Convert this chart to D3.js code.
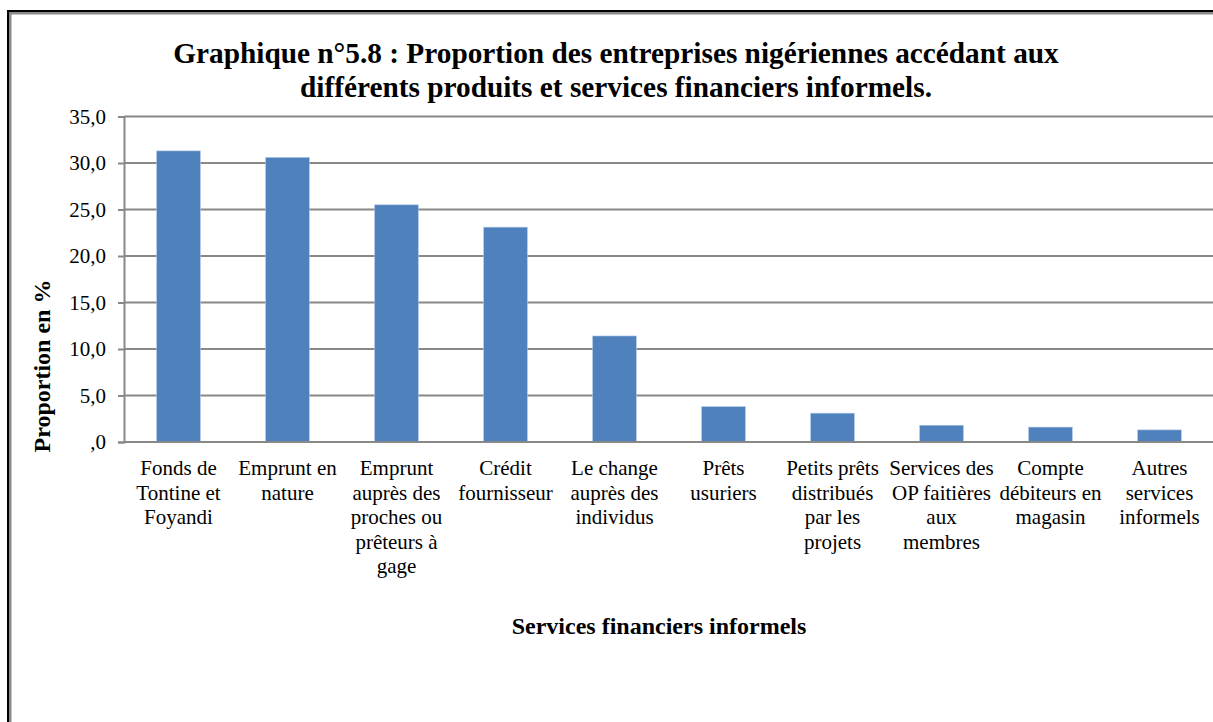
<!DOCTYPE html>
<html>
<head>
<meta charset="utf-8">
<script src="https://cdn.jsdelivr.net/npm/d3@7"></script>
<style>
  html, body { margin: 0; padding: 0; background: #fff; }
  svg { display: block; }
</style>
</head>
<body>
<div id="chart"></div>
<script>
// ---- Data ----
const titleLines = [
  "Graphique n°5.8 : Proportion des entreprises nigériennes accédant aux",
  "différents produits et services financiers informels."
];
const yAxisTitle = "Proportion en %";
const xAxisTitle = "Services financiers informels";
const categories = [
  "Fonds de\nTontine et\nFoyandi",
  "Emprunt en\nnature",
  "Emprunt\nauprès des\nproches ou\nprêteurs à\ngage",
  "Crédit\nfournisseur",
  "Le change\nauprès des\nindividus",
  "Prêts\nusuriers",
  "Petits prêts\ndistribués\npar les\nprojets",
  "Services des\nOP faitières\naux\nmembres",
  "Compte\ndébiteurs en\nmagasin",
  "Autres\nservices\ninformels"
];
const values = [31.3, 30.6, 25.5, 23.1, 11.4, 3.8, 3.1, 1.8, 1.6, 1.3];
const yTicks = [0, 5, 10, 15, 20, 25, 30, 35];

// ---- Layout ----
const W = 1213, H = 722;
const plot = { left: 124, right: 1214, top: 116.5, bottom: 442 };
const serif = "'Liberation Serif', 'Times New Roman', serif";

const svg = d3.select("#chart").append("svg")
  .attr("width", W).attr("height", H);

svg.append("rect").attr("width", W).attr("height", H).attr("fill", "#fff");

// Frame (chart area border, running off right/bottom)
svg.append("rect").attr("x", 9.5).attr("y", 12.5).attr("width", W + 20).attr("height", H + 20)
  .attr("fill", "none").attr("stroke", "#8a8a8a").attr("stroke-width", 4);
svg.append("rect").attr("x", 8).attr("y", 11).attr("width", W + 20).attr("height", H + 20)
  .attr("fill", "none").attr("stroke", "#000").attr("stroke-width", 2);

// Scales
const x = d3.scaleBand().domain(categories).range([plot.left, plot.right])
  .paddingInner(0.6).paddingOuter(0.3);
const y = d3.scaleLinear().domain([0, 35]).range([plot.bottom, plot.top]);

const fmt = v => (v === 0 ? "" : String(Math.floor(v))) + "," + String(Math.round((v % 1) * 10));

// Gridlines + y axis
const yAxis = d3.axisLeft(y).tickValues(yTicks).tickSize(6).tickPadding(12).tickFormat(fmt);
const gy = svg.append("g").attr("transform", `translate(${plot.left},0)`).call(yAxis);
gy.select(".domain").attr("stroke", "#888").attr("stroke-width", 2);
gy.selectAll(".tick line").attr("stroke", "#888").attr("stroke-width", 2);
gy.selectAll(".tick text").attr("font-family", serif).attr("font-size", 21).attr("fill", "#000");

svg.append("g").selectAll("line").data(yTicks).join("line")
  .attr("x1", plot.left).attr("x2", W)
  .attr("y1", d => y(d)).attr("y2", d => y(d))
  .attr("stroke", "#888").attr("stroke-width", 2);

// Bars
svg.append("g").selectAll("rect").data(values).join("rect")
  .attr("x", (d, i) => x(categories[i]))
  .attr("width", x.bandwidth())
  .attr("y", d => y(d))
  .attr("height", d => y(0) - y(d))
  .attr("fill", "#4F81BD")
  .attr("stroke", "#a9c4e6").attr("stroke-width", 0.6);

// x axis line
svg.append("line").attr("x1", plot.left).attr("x2", W)
  .attr("y1", y(0)).attr("y2", y(0)).attr("stroke", "#888").attr("stroke-width", 2);

// X labels
const xl = svg.append("g").attr("font-family", serif).attr("font-size", 21).attr("fill", "#000")
  .attr("text-anchor", "middle");
categories.forEach(c => {
  const t = xl.append("text").attr("x", x(c) + x.bandwidth() / 2).attr("y", 475);
  c.split("\n").forEach((ln, j) => {
    t.append("tspan").attr("x", x(c) + x.bandwidth() / 2).attr("y", 475 + j * 24.5).text(ln);
  });
});

// Title
const tt = svg.append("text").attr("font-family", serif).attr("font-size", 29.3)
  .attr("font-weight", "bold").attr("text-anchor", "middle").attr("fill", "#000");
titleLines.forEach((ln, j) => {
  tt.append("tspan").attr("x", 616).attr("y", 63 + j * 34).text(ln);
});

// Axis titles
svg.append("text").attr("font-family", serif).attr("font-size", 24).attr("font-weight", "bold")
  .attr("text-anchor", "middle").attr("fill", "#000")
  .attr("transform", "translate(50,366) rotate(-90)").text(yAxisTitle);

svg.append("text").attr("font-family", serif).attr("font-size", 24).attr("font-weight", "bold")
  .attr("text-anchor", "middle").attr("fill", "#000")
  .attr("x", 659).attr("y", 634).text(xAxisTitle);
</script>
</body>
</html>
